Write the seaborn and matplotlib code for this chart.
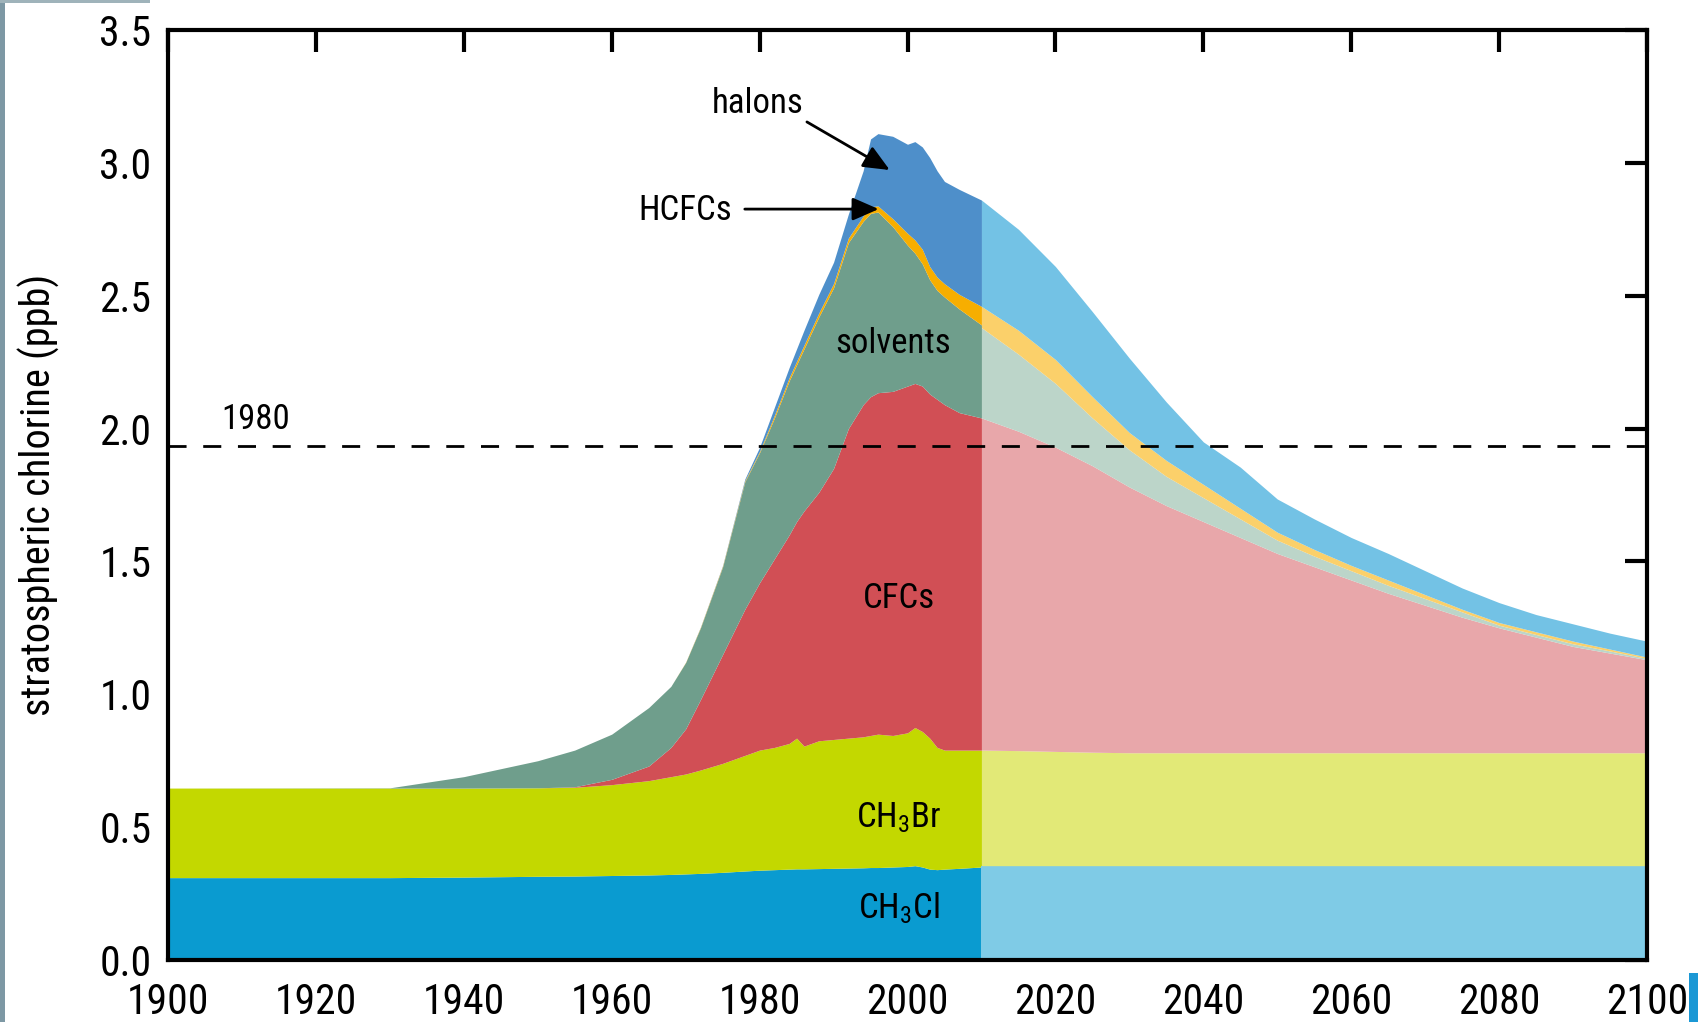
import numpy as np
import pandas as pd
import matplotlib
matplotlib.use("Agg")
import matplotlib.pyplot as plt
from matplotlib import font_manager
from matplotlib.patches import Rectangle
import seaborn as sns

# ---- observed / reconstructed period (ppb of chlorine, per source) ----
years_obs = [1900, 1930, 1940, 1950, 1955, 1960, 1965, 1968, 1970, 1972, 1975,
             1978, 1980, 1982, 1984, 1985, 1986, 1988, 1990, 1992, 1994, 1995,
             1996, 1998, 2000, 2001, 2002, 2003, 2004, 2005, 2007, 2010]
ch3cl_obs = [.310, .310, .312, .315, .316, .318, .320, .322, .324, .326, .330,
             .335, .338, .340, .342, .343, .343, .344, .345, .346, .347, .348,
             .348, .350, .352, .355, .350, .342, .340, .342, .345, .350]
ch3br_obs = [.337, .337, .335, .333, .334, .342, .355, .368, .376, .389, .410,
             .435, .452, .460, .473, .492, .462, .481, .485, .489, .493, .497,
             .502, .495, .503, .520, .510, .493, .460, .448, .445, .440]
cfcs_obs = [0, 0, 0, 0, .002, .020, .055, .110, .170, .265, .410,
            .550, .630, .710, .785, .815, .885, .935, 1.020, 1.165, 1.250, 1.275,
            1.285, 1.295, 1.305, 1.295, 1.300, 1.295, 1.310, 1.300, 1.270, 1.250]
solvents_obs = [0, .001, .043, .102, .138, .170, .220, .230, .250, .270, .330,
                .480, .490, .530, .580, .590, .610, .660, .680, .700, .690, .690,
                .680, .620, .530, .490, .460, .430, .410, .405, .390, .350]
hcfcs_obs = [0, 0, 0, 0, 0, 0, 0, 0, .001, .002, .003,
             .004, .005, .010, .012, .013, .014, .015, .016, .017, .020, .025,
             .023, .030, .045, .050, .055, .050, .050, .050, .055, .070]
halons_obs = [0, 0, 0, 0, 0, 0, 0, 0, 0, .001, .002,
              .006, .015, .030, .038, .047, .056, .070, .080, .090, .170, .255,
              .272, .310, .335, .370, .385, .410, .400, .385, .395, .400]

# ---- projection ----
years_proj = [2010, 2015, 2020, 2025, 2030, 2035, 2040, 2045, 2050, 2055,
              2060, 2065, 2070, 2075, 2080, 2085, 2090, 2095, 2100]
ch3cl_proj = [.355] * 19
ch3br_proj = [.435, .433, .430, .427] + [.425] * 15
cfcs_proj = [1.250, 1.202, 1.145, 1.078, 1.000, .930, .870, .810, .750, .700,
             .650, .600, .555, .510, .470, .435, .400, .375, .350]
solvents_proj = [.340, .290, .240, .180, .140, .110, .090, .070, .050, .040,
                 .035, .030, .025, .020, .010, .010, .010, .008, .005]
hcfcs_proj = [.080, .090, .090, .080, .065, .060, .050, .040, .030, .025,
              .020, .020, .015, .010, .010, .010, .010, .007, .005]
halons_proj = [.400, .380, .350, .320, .280, .220, .160, .155, .125, .115,
               .105, .100, .090, .080, .075, .065, .065, .060, .060]

level_1980 = 1.935

sources = ["CH3Cl", "CH3Br", "CFCs", "solvents", "HCFCs", "halons"]
colors_obs = ["#0a9bd0", "#c3d800", "#d14f55", "#6f9e8c", "#f7ae00", "#4e8fca"]
colors_proj = ["#7fcbe6", "#e2e977", "#e8a7aa", "#bcd5c9", "#fbd06a", "#73c2e5"]

obs = pd.DataFrame({"year": years_obs, "CH3Cl": ch3cl_obs, "CH3Br": ch3br_obs,
                    "CFCs": cfcs_obs, "solvents": solvents_obs,
                    "HCFCs": hcfcs_obs, "halons": halons_obs})
proj = pd.DataFrame({"year": years_proj, "CH3Cl": ch3cl_proj, "CH3Br": ch3br_proj,
                     "CFCs": cfcs_proj, "solvents": solvents_proj,
                     "HCFCs": hcfcs_proj, "halons": halons_proj})

sns.set_theme(style="white")

# prefer a narrow sans face when one is available
installed = {f.name for f in font_manager.fontManager.ttflist}
narrow = [n for n in ["Liberation Sans Narrow", "Arial Narrow", "Roboto Condensed",
                      "Open Sans Condensed", "Noto Sans Condensed"] if n in installed]
base = narrow[0] if narrow else "Liberation Sans"
plt.rcParams["font.family"] = [base, "Liberation Sans", "DejaVu Sans"]
plt.rcParams["mathtext.fontset"] = "custom"
plt.rcParams["mathtext.rm"] = base
plt.rcParams["mathtext.default"] = "regular"
fs_tick = 30 if narrow else 28
fs_lab = 25 if narrow else 23
fs_y = 29 if narrow else 27

W, H = 1698, 1022
fig = plt.figure(figsize=(W / 100, H / 100), dpi=100)
fig.patch.set_facecolor("white")
ax = fig.add_axes([168 / W, 62 / H, (1647 - 168) / W, (960 - 30) / H])

ax.stackplot(obs["year"], obs[sources].T.values, colors=colors_obs,
             linewidth=0, antialiased=True)
ax.stackplot(proj["year"], proj[sources].T.values, colors=colors_proj,
             linewidth=0, antialiased=True)

ax.axhline(level_1980, color="black", lw=2, dashes=(6.5, 6), zorder=5)

ax.set_xlim(1900, 2100)
ax.set_ylim(0, 3.5)
ax.set_xticks(np.arange(1900, 2101, 20))
ax.set_yticks(np.arange(0, 3.51, 0.5))
ax.yaxis.set_major_formatter(matplotlib.ticker.FormatStrFormatter("%.1f"))

for s in ax.spines.values():
    s.set_color("black")
    s.set_linewidth(3)
    s.set_zorder(6)
ax.tick_params(direction="in", length=16, width=3, color="black",
               top=True, right=True, labelsize=fs_tick, labelcolor="black")
ax.tick_params(axis="x", pad=16)
ax.tick_params(axis="y", pad=12)

ax.set_ylabel("stratospheric chlorine (ppb)", fontsize=fs_y, color="black")
ax.yaxis.set_label_coords(-0.073, 0.5)

lab = dict(ha="center", va="center", fontsize=fs_lab, color="black", zorder=7)
ax.text(1998.85, 1.362, "CFCs", **lab)
ax.text(1998.85, 0.534, "CH$_3$Br", **lab)
ax.text(1998.85, 0.196, "CH$_3$Cl", **lab)
ax.text(1998.0, 2.32, "solvents", **lab)
ax.text(1979.8, 3.225, "halons", **lab)
ax.text(1969.9, 2.82, "HCFCs", **lab)
ax.text(1911.8, 2.036, "1980", **lab)

arrow = dict(arrowstyle="-|>,head_length=0.8,head_width=0.35", color="black",
             lw=2, mutation_scale=20, shrinkA=0, shrinkB=0)
ax.annotate("", xy=(1997.6, 2.973), xytext=(1986.4, 3.154), arrowprops=arrow, zorder=7)
ax.annotate("", xy=(1996.1, 2.826), xytext=(1978.0, 2.826), arrowprops=arrow, zorder=7)

# slide frame pieces at the edges
fig.patches.append(Rectangle((0, 0), 5 / W, 1, transform=fig.transFigure,
                             facecolor="#7d98a4", edgecolor="none"))
fig.patches.append(Rectangle((0, 1 - 3 / H), 150 / W, 3 / H, transform=fig.transFigure,
                             facecolor="#9fb3ba", edgecolor="none"))
fig.patches.append(Rectangle((1689 / W, 0), 9 / W, 49 / H, transform=fig.transFigure,
                             facecolor="#1b98d5", edgecolor="none"))

fig.savefig("out.png", dpi=100)
